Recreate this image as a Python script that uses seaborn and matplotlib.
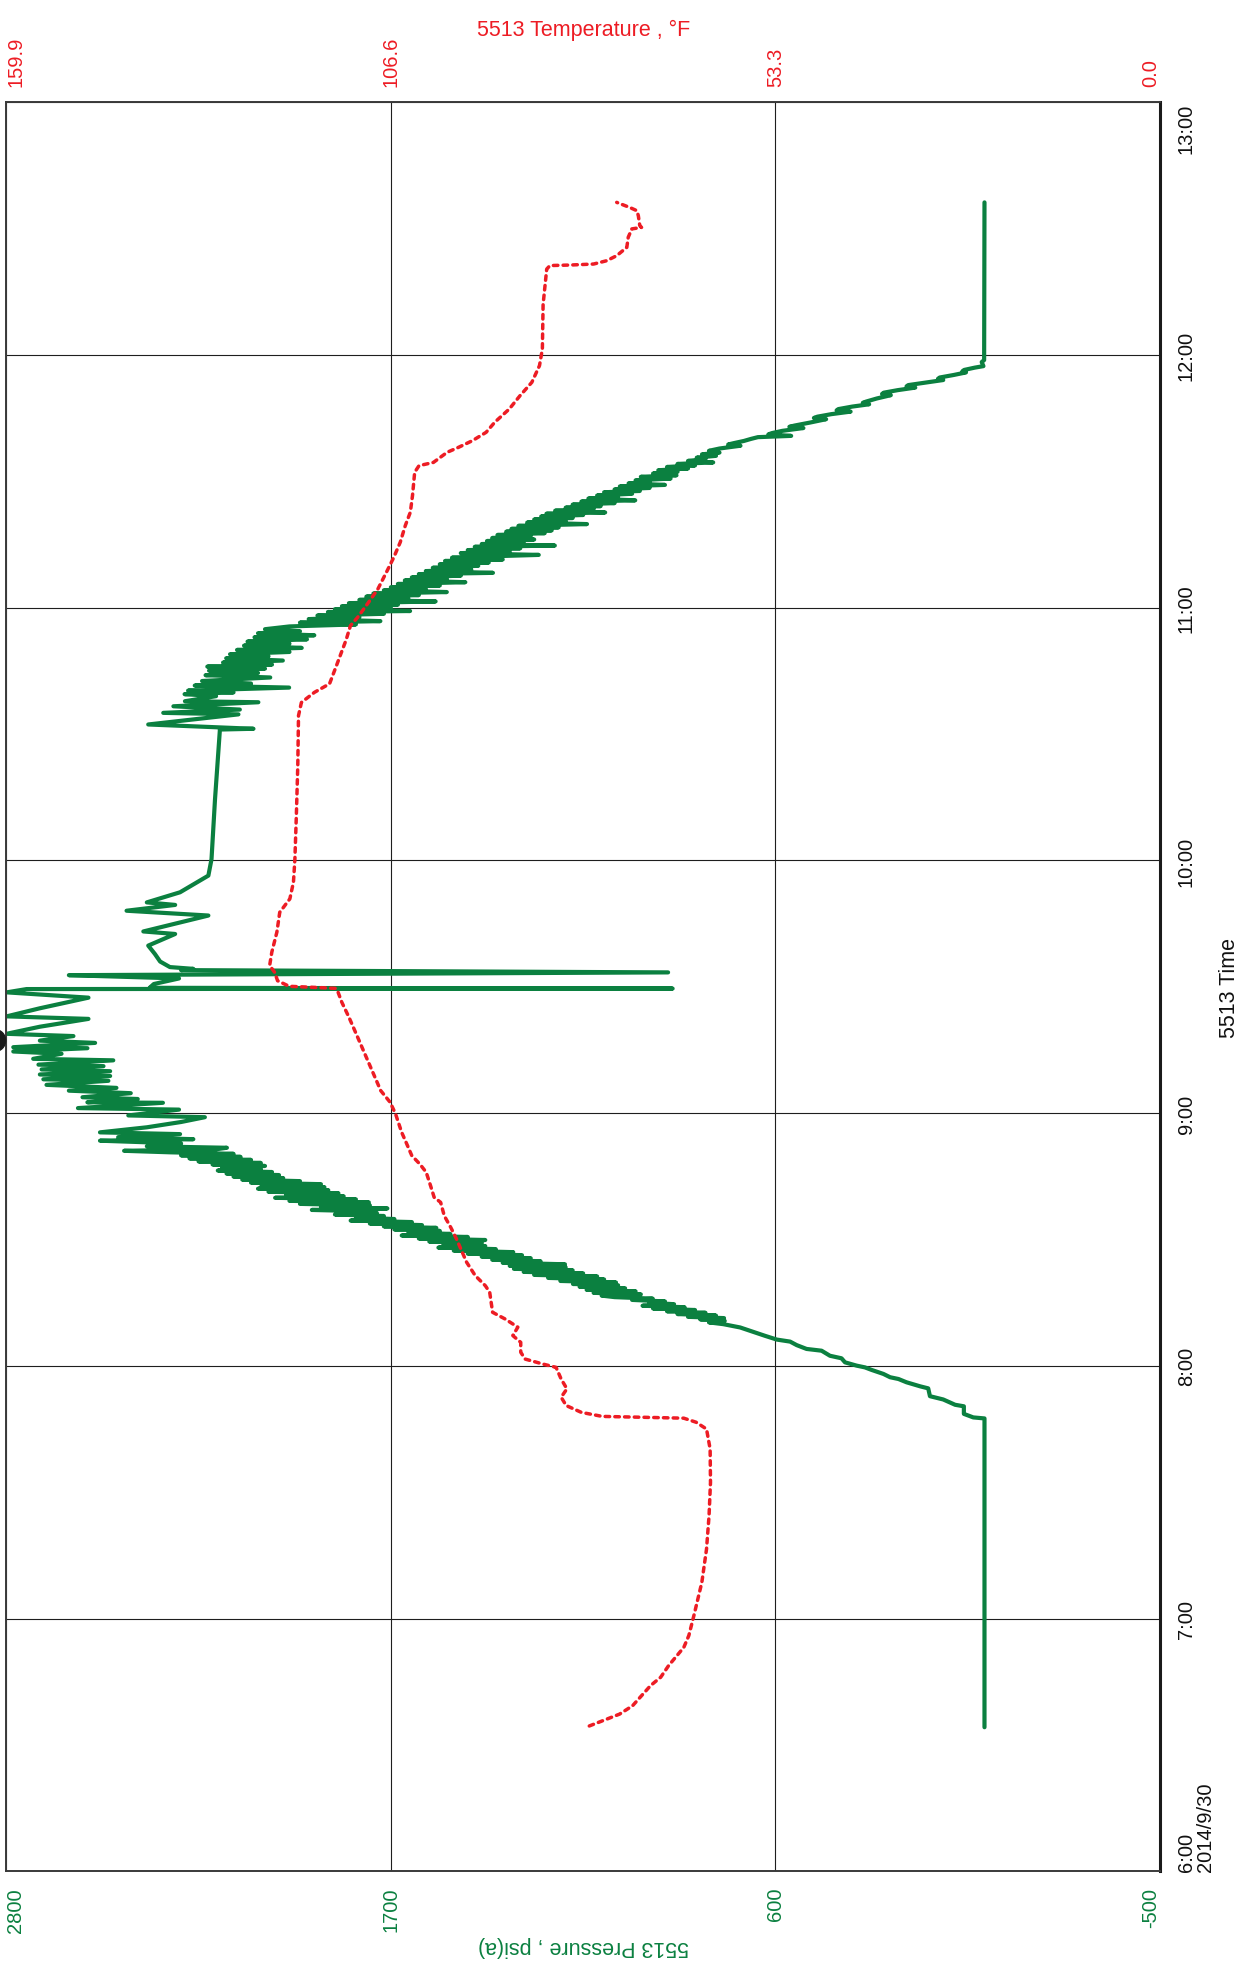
import pandas as pd
import matplotlib
matplotlib.use("Agg")
import matplotlib.pyplot as plt
import seaborn as sns


# 5513 gauge, 2014/9/30 - time in decimal hours
press_time_h = [
    6.570, 7.792, 7.796, 7.810, 7.840, 7.846, 7.867, 7.880, 7.911, 7.919,
    7.935, 7.948, 7.955, 7.968, 7.984, 7.994, 8.001, 8.014, 8.030, 8.040,
    8.060, 8.067, 8.082, 8.096, 8.104, 8.119, 8.132, 8.152, 8.165, 8.172,
    8.178, 8.184, 8.189, 8.194, 8.199, 8.205, 8.210, 8.216, 8.221, 8.227,
    8.232, 8.238, 8.244, 8.250, 8.255, 8.261, 8.266, 8.272, 8.278, 8.283,
    8.289, 8.295, 8.301, 8.307, 8.313, 8.319, 8.324, 8.330, 8.336, 8.342,
    8.348, 8.354, 8.360, 8.366, 8.372, 8.378, 8.384, 8.390, 8.396, 8.402,
    8.408, 8.414, 8.420, 8.426, 8.432, 8.438, 8.444, 8.450, 8.456, 8.462,
    8.468, 8.474, 8.480, 8.486, 8.492, 8.498, 8.504, 8.510, 8.516, 8.522,
    8.528, 8.534, 8.540, 8.546, 8.552, 8.557, 8.563, 8.569, 8.575, 8.581,
    8.587, 8.593, 8.599, 8.605, 8.611, 8.617, 8.623, 8.629, 8.635, 8.641,
    8.647, 8.653, 8.659, 8.665, 8.671, 8.677, 8.683, 8.689, 8.695, 8.701,
    8.707, 8.713, 8.719, 8.725, 8.731, 8.737, 8.743, 8.749, 8.755, 8.761,
    8.767, 8.773, 8.779, 8.785, 8.791, 8.797, 8.803, 8.809, 8.815, 8.821,
    8.827, 8.833, 8.839, 8.845, 8.851, 8.857, 8.863, 8.869, 8.880, 8.891,
    8.897, 8.905, 8.917, 8.924, 8.944, 8.965, 8.984, 8.991, 9.014, 9.020,
    9.041, 9.043, 9.056, 9.063, 9.079, 9.089, 9.100, 9.112, 9.128, 9.134,
    9.147, 9.153, 9.166, 9.173, 9.186, 9.192, 9.209, 9.215, 9.235, 9.244,
    9.257, 9.261, 9.278, 9.287, 9.305, 9.314, 9.342, 9.373, 9.383, 9.415,
    9.457, 9.478, 9.491, 9.493, 9.496, 9.511, 9.533, 9.546, 9.557, 9.566,
    9.571, 9.578, 9.600, 9.630, 9.663, 9.709, 9.719, 9.782, 9.801, 9.824,
    9.834, 9.874, 9.940, 10.005, 10.242, 10.439, 10.518, 10.521, 10.538, 10.578,
    10.584, 10.597, 10.610, 10.626, 10.630, 10.650, 10.658, 10.665, 10.672, 10.684,
    10.692, 10.700, 10.710, 10.724, 10.733, 10.742, 10.751, 10.759, 10.767, 10.775,
    10.783, 10.791, 10.800, 10.808, 10.816, 10.825, 10.833, 10.841, 10.850, 10.858,
    10.866, 10.875, 10.883, 10.891, 10.899, 10.907, 10.915, 10.926, 10.934, 10.941,
    10.947, 10.955, 10.962, 10.969, 10.976, 10.983, 10.987, 10.994, 11.000, 11.006,
    11.012, 11.018, 11.025, 11.031, 11.037, 11.044, 11.050, 11.056, 11.062, 11.069,
    11.075, 11.081, 11.088, 11.094, 11.101, 11.108, 11.114, 11.120, 11.127, 11.133,
    11.138, 11.145, 11.151, 11.158, 11.166, 11.172, 11.179, 11.185, 11.191, 11.198,
    11.204, 11.209, 11.216, 11.222, 11.228, 11.235, 11.241, 11.246, 11.252, 11.258,
    11.264, 11.270, 11.276, 11.282, 11.288, 11.295, 11.301, 11.306, 11.312, 11.318,
    11.324, 11.331, 11.337, 11.343, 11.349, 11.355, 11.361, 11.367, 11.372, 11.377,
    11.384, 11.390, 11.396, 11.402, 11.408, 11.414, 11.420, 11.425, 11.432, 11.438,
    11.444, 11.451, 11.457, 11.462, 11.468, 11.474, 11.480, 11.486, 11.492, 11.498,
    11.504, 11.511, 11.518, 11.524, 11.531, 11.538, 11.544, 11.551, 11.557, 11.563,
    11.569, 11.575, 11.581, 11.588, 11.594, 11.601, 11.607, 11.614, 11.621, 11.630,
    11.641, 11.646, 11.651, 11.660, 11.668, 11.675, 11.680, 11.686, 11.691, 11.700,
    11.711, 11.716, 11.721, 11.733, 11.746, 11.751, 11.756, 11.766, 11.776, 11.781,
    11.786, 11.796, 11.805, 11.811, 11.816, 11.828, 11.841, 11.846, 11.851, 11.861,
    11.871, 11.876, 11.881, 11.891, 11.901, 11.906, 11.911, 11.921, 11.931, 11.936,
    11.941, 11.950, 11.956, 11.972, 11.980, 12.604,
]
press_psia = [
    2, 2, 34, 61, 61, 86, 120, 158, 163, 186,
    225, 248, 272, 291, 325, 344, 368, 401, 411, 444,
    468, 511, 539, 558, 596, 630, 658, 701, 749, 790,
    745, 815, 747, 850, 770, 880, 800, 910, 830, 950,
    860, 980, 890, 960, 916, 1010, 951, 1060, 1097, 985,
    1120, 1000, 1140, 1030, 1160, 1050, 1179, 1056, 1215, 1090,
    1250, 1110, 1290, 1150, 1320, 1180, 1348, 1200, 1360, 1202,
    1380, 1272, 1410, 1300, 1440, 1325, 1480, 1350, 1520, 1400,
    1564, 1430, 1550, 1440, 1590, 1430, 1620, 1480, 1669, 1530,
    1650, 1560, 1690, 1570, 1720, 1611, 1760, 1640, 1815, 1690,
    1800, 1720, 1860, 1740, 1750, 1926, 1710, 1900, 1760, 1960,
    1763, 1990, 1800, 2031, 1835, 2000, 1850, 2050, 1879, 2080,
    1890, 2070, 1900, 2100, 1960, 2125, 2008, 2150, 2020, 2170,
    2040, 2195, 2072, 2183, 2060, 2210, 2072, 2250, 2100, 2276,
    2130, 2300, 2150, 2330, 2463, 2200, 2169, 2398, 2300, 2532,
    2265, 2480, 2303, 2532, 2398, 2300, 2232, 2451, 2306, 2595,
    2352, 2568, 2424, 2582, 2444, 2621, 2485, 2685, 2508, 2694,
    2503, 2704, 2503, 2699, 2522, 2708, 2494, 2723, 2642, 2780,
    2568, 2780, 2546, 2704, 2608, 2799, 2704, 2565, 2799, 2704,
    2565, 2799, 2742, 894, 2390, 2378, 2306, 2621, 907, 2300,
    2265, 2332, 2360, 2375, 2394, 2317, 2408, 2222, 2456, 2317,
    2398, 2303, 2222, 2213, 2203, 2193, 2189, 2093, 2394, 2136,
    2351, 2132, 2322, 2079, 2289, 2200, 2290, 2150, 2280, 1991,
    2261, 2100, 2240, 2045, 2230, 2080, 2220, 2060, 2225, 2040,
    2180, 2009, 2171, 2050, 2160, 1990, 2140, 1955, 2120, 1990,
    2110, 1940, 2090, 1919, 2080, 1960, 2060, 1990, 1800, 1960,
    1730, 1935, 1790, 1910, 1720, 1880, 1645, 1860, 1700, 1840,
    1680, 1820, 1572, 1790, 1650, 1770, 1620, 1750, 1540, 1720,
    1600, 1700, 1560, 1680, 1487, 1660, 1540, 1640, 1500, 1620,
    1408, 1600, 1470, 1580, 1450, 1560, 1420, 1545, 1380, 1525,
    1400, 1277, 1500, 1360, 1480, 1330, 1460, 1231, 1440, 1320,
    1425, 1290, 1410, 1300, 1395, 1260, 1370, 1240, 1355, 1220,
    1335, 1139, 1310, 1200, 1290, 1180, 1270, 1150, 1255, 1087,
    1230, 1120, 1200, 1100, 1180, 1060, 1155, 1001, 1135, 1050,
    1110, 1010, 1090, 988, 1060, 960, 1045, 916, 1020, 960,
    1000, 900, 985, 883, 950, 880, 935, 850, 910, 830,
    880, 778, 850, 800, 825, 770, 810, 760, 790, 760,
    700, 735, 720, 690, 670, 650, 555, 620, 610, 580,
    520, 560, 545, 500, 455, 490, 480, 440, 385, 425,
    420, 380, 332, 350, 340, 310, 270, 295, 290, 250,
    200, 225, 220, 170, 120, 135, 130, 90, 55, 65,
    60, 30, 5, 10, 3, 2,
]

temp_time_h = [
    6.575, 6.622, 6.655, 6.735, 6.768, 6.814, 6.886, 6.933, 7.012, 7.143,
    7.275, 7.407, 7.539, 7.671, 7.750, 7.777, 7.793, 7.797, 7.800, 7.816,
    7.843, 7.876, 7.909, 7.948, 7.994, 8.007, 8.027, 8.054, 8.093, 8.120,
    8.153, 8.186, 8.212, 8.291, 8.317, 8.357, 8.410, 8.502, 8.548, 8.594,
    8.647, 8.667, 8.713, 8.766, 8.799, 8.832, 8.885, 8.924, 8.997, 9.043,
    9.089, 9.188, 9.254, 9.320, 9.379, 9.439, 9.485, 9.494, 9.498, 9.502,
    9.524, 9.557, 9.584, 9.637, 9.716, 9.795, 9.848, 9.914, 10.006, 10.177,
    10.375, 10.573, 10.625, 10.665, 10.699, 10.774, 10.873, 10.929, 10.962, 11.021,
    11.074, 11.147, 11.199, 11.259, 11.325, 11.378, 11.444, 11.536, 11.562, 11.575,
    11.615, 11.635, 11.661, 11.694, 11.734, 11.786, 11.839, 11.892, 11.958, 12.024,
    12.200, 12.340, 12.354, 12.356, 12.360, 12.373, 12.393, 12.426, 12.466, 12.499,
    12.505, 12.512, 12.551, 12.571, 12.584, 12.604,
]
temp_degf = [
    79.1, 74.9, 73.1, 70.6, 69.2, 68.1, 66.0, 65.3, 64.6, 63.5,
    62.85, 62.5, 62.3, 62.35, 62.85, 64.3, 66.0, 72.4, 77.3, 80.2,
    82.3, 83.0, 82.2, 83.0, 83.7, 85.5, 88.0, 88.6, 88.6, 89.7,
    89.0, 90.8, 92.5, 92.9, 93.5, 94.9, 96.1, 97.5, 98.3, 99.2,
    99.7, 100.6, 101.1, 101.7, 102.6, 103.7, 104.5, 105.1, 105.95, 106.7,
    108.0, 109.5, 110.5, 111.5, 112.4, 113.4, 114.0, 114.3, 117.5, 120.7,
    122.3, 122.7, 123.4, 123.1, 122.4, 122.0, 120.6, 120.1, 119.9, 119.7,
    119.5, 119.4, 119.0, 117.2, 115.1, 114.1, 112.8, 112.2, 111.2, 109.7,
    108.4, 107.1, 106.2, 105.3, 104.6, 103.9, 103.6, 103.3, 102.7, 100.7,
    98.8, 97.2, 95.3, 93.4, 92.2, 90.2, 88.7, 87.06, 86.0, 85.6,
    85.5, 85.0, 84.55, 81.8, 78.5, 76.7, 75.3, 73.9, 73.7, 73.2,
    71.85, 72.1, 72.3, 72.5, 73.5, 75.3,
]

# cursor handle sitting on the left edge
cursor_time_h = [9.29]
cursor_psia = [2835]

hour_ticks = [6, 7, 8, 9, 10, 11, 12, 13]
hour_labels = ["6:00\n2014/9/30", "7:00", "8:00", "9:00",
               "10:00", "11:00", "12:00", "13:00"]
press_ticks = [2800, 1700, 600, -500]
press_labels = ["2800", "1700", "600", "-500"]
temp_ticks = [159.9, 106.6, 53.3, 0.0]
temp_labels = ["159.9", "106.6", "53.3", "0.0"]

GREEN = "#0b8040"
RED = "#ed1c24"
GRID = "#1e1e1e"


sns.set_theme(style="white")
plt.rcParams["font.family"] = ["Liberation Sans", "DejaVu Sans"]

press_df = pd.DataFrame({"time": press_time_h, "pressure": press_psia})
temp_df = pd.DataFrame({"time": temp_time_h, "temperature": temp_degf})

fig = plt.figure(figsize=(12.44, 19.65), dpi=100)
ax = fig.add_axes([0.00506, 0.04718, 0.92741, 0.90025])

sns.lineplot(data=press_df, x="pressure", y="time", sort=False,
             estimator=None, color=GREEN, linewidth=3.0, ax=ax)
ax.plot(cursor_psia, cursor_time_h, "o", color="#1a1a1a",
        markersize=16, clip_on=False, zorder=5)

ax.set_xlim(2800, -500)
ax.set_ylim(6, 13)
ax.set_xticks(press_ticks, labels=press_labels)
ax.set_yticks(hour_ticks, labels=hour_labels)
ax.grid(True, color=GRID, linewidth=0.8)

ax.yaxis.tick_right()
ax.tick_params(axis="x", length=0, pad=11.3, labelsize=14.5,
               labelcolor=GREEN, labelrotation=90)
ax.tick_params(axis="y", length=0, pad=12, labelsize=14.5,
               labelcolor="#111111", labelrotation=90)

for lab in ax.get_xticklabels():
    if lab.get_text() == "2800":
        lab.set_ha("left")
    elif lab.get_text() == "-500":
        lab.set_ha("right")

for lab in ax.get_yticklabels():
    lab.set_va("center")
    if lab.get_text().startswith("6:00"):
        lab.set_va("bottom")
        lab.set_linespacing(1.05)
    elif lab.get_text() == "13:00":
        lab.set_va("top")

ax.set_xlabel("5513 Pressure , psi(a)", color=GREEN, fontsize=15.5,
              rotation=180)
ax.xaxis.set_label_coords(0.5, -0.036)
ax.set_ylabel("5513 Time", color="#111111", fontsize=15.5)
ax.yaxis.set_label_position("right")
ax.yaxis.set_label_coords(1.051, 0.5)

for side, sp in ax.spines.items():
    sp.set_visible(True)
    sp.set_color("#3a3a3a")
    sp.set_linewidth(1.4)
ax.spines["right"].set_color("#1a1a1a")
ax.spines["right"].set_linewidth(2.2)

# temperature on the top axis
ax2 = ax.twiny()
sns.lineplot(data=temp_df, x="temperature", y="time", sort=False,
             estimator=None, color=RED, linewidth=2.5,
             linestyle=(0, (1.3, 1.5)), dash_capstyle="round", ax=ax2)
ax2.set_xlim(159.9, 0)
ax2.set_ylim(6, 13)
ax2.set_xticks(temp_ticks, labels=temp_labels)
ax2.tick_params(axis="x", length=0, pad=11.5, labelsize=14.5,
                labelcolor=RED, labelrotation=90)
for lab in ax2.get_xticklabels():
    if lab.get_text() == "159.9":
        lab.set_ha("left")
    elif lab.get_text() == "0.0":
        lab.set_ha("right")
ax2.set_xlabel("5513 Temperature , °F", color=RED, fontsize=15.5)
ax2.xaxis.set_label_coords(0.5, 1.038)
ax2.set_ylabel("")
ax2.grid(False)
for sp in ax2.spines.values():
    sp.set_visible(False)

fig.savefig("out.png", dpi=100)
